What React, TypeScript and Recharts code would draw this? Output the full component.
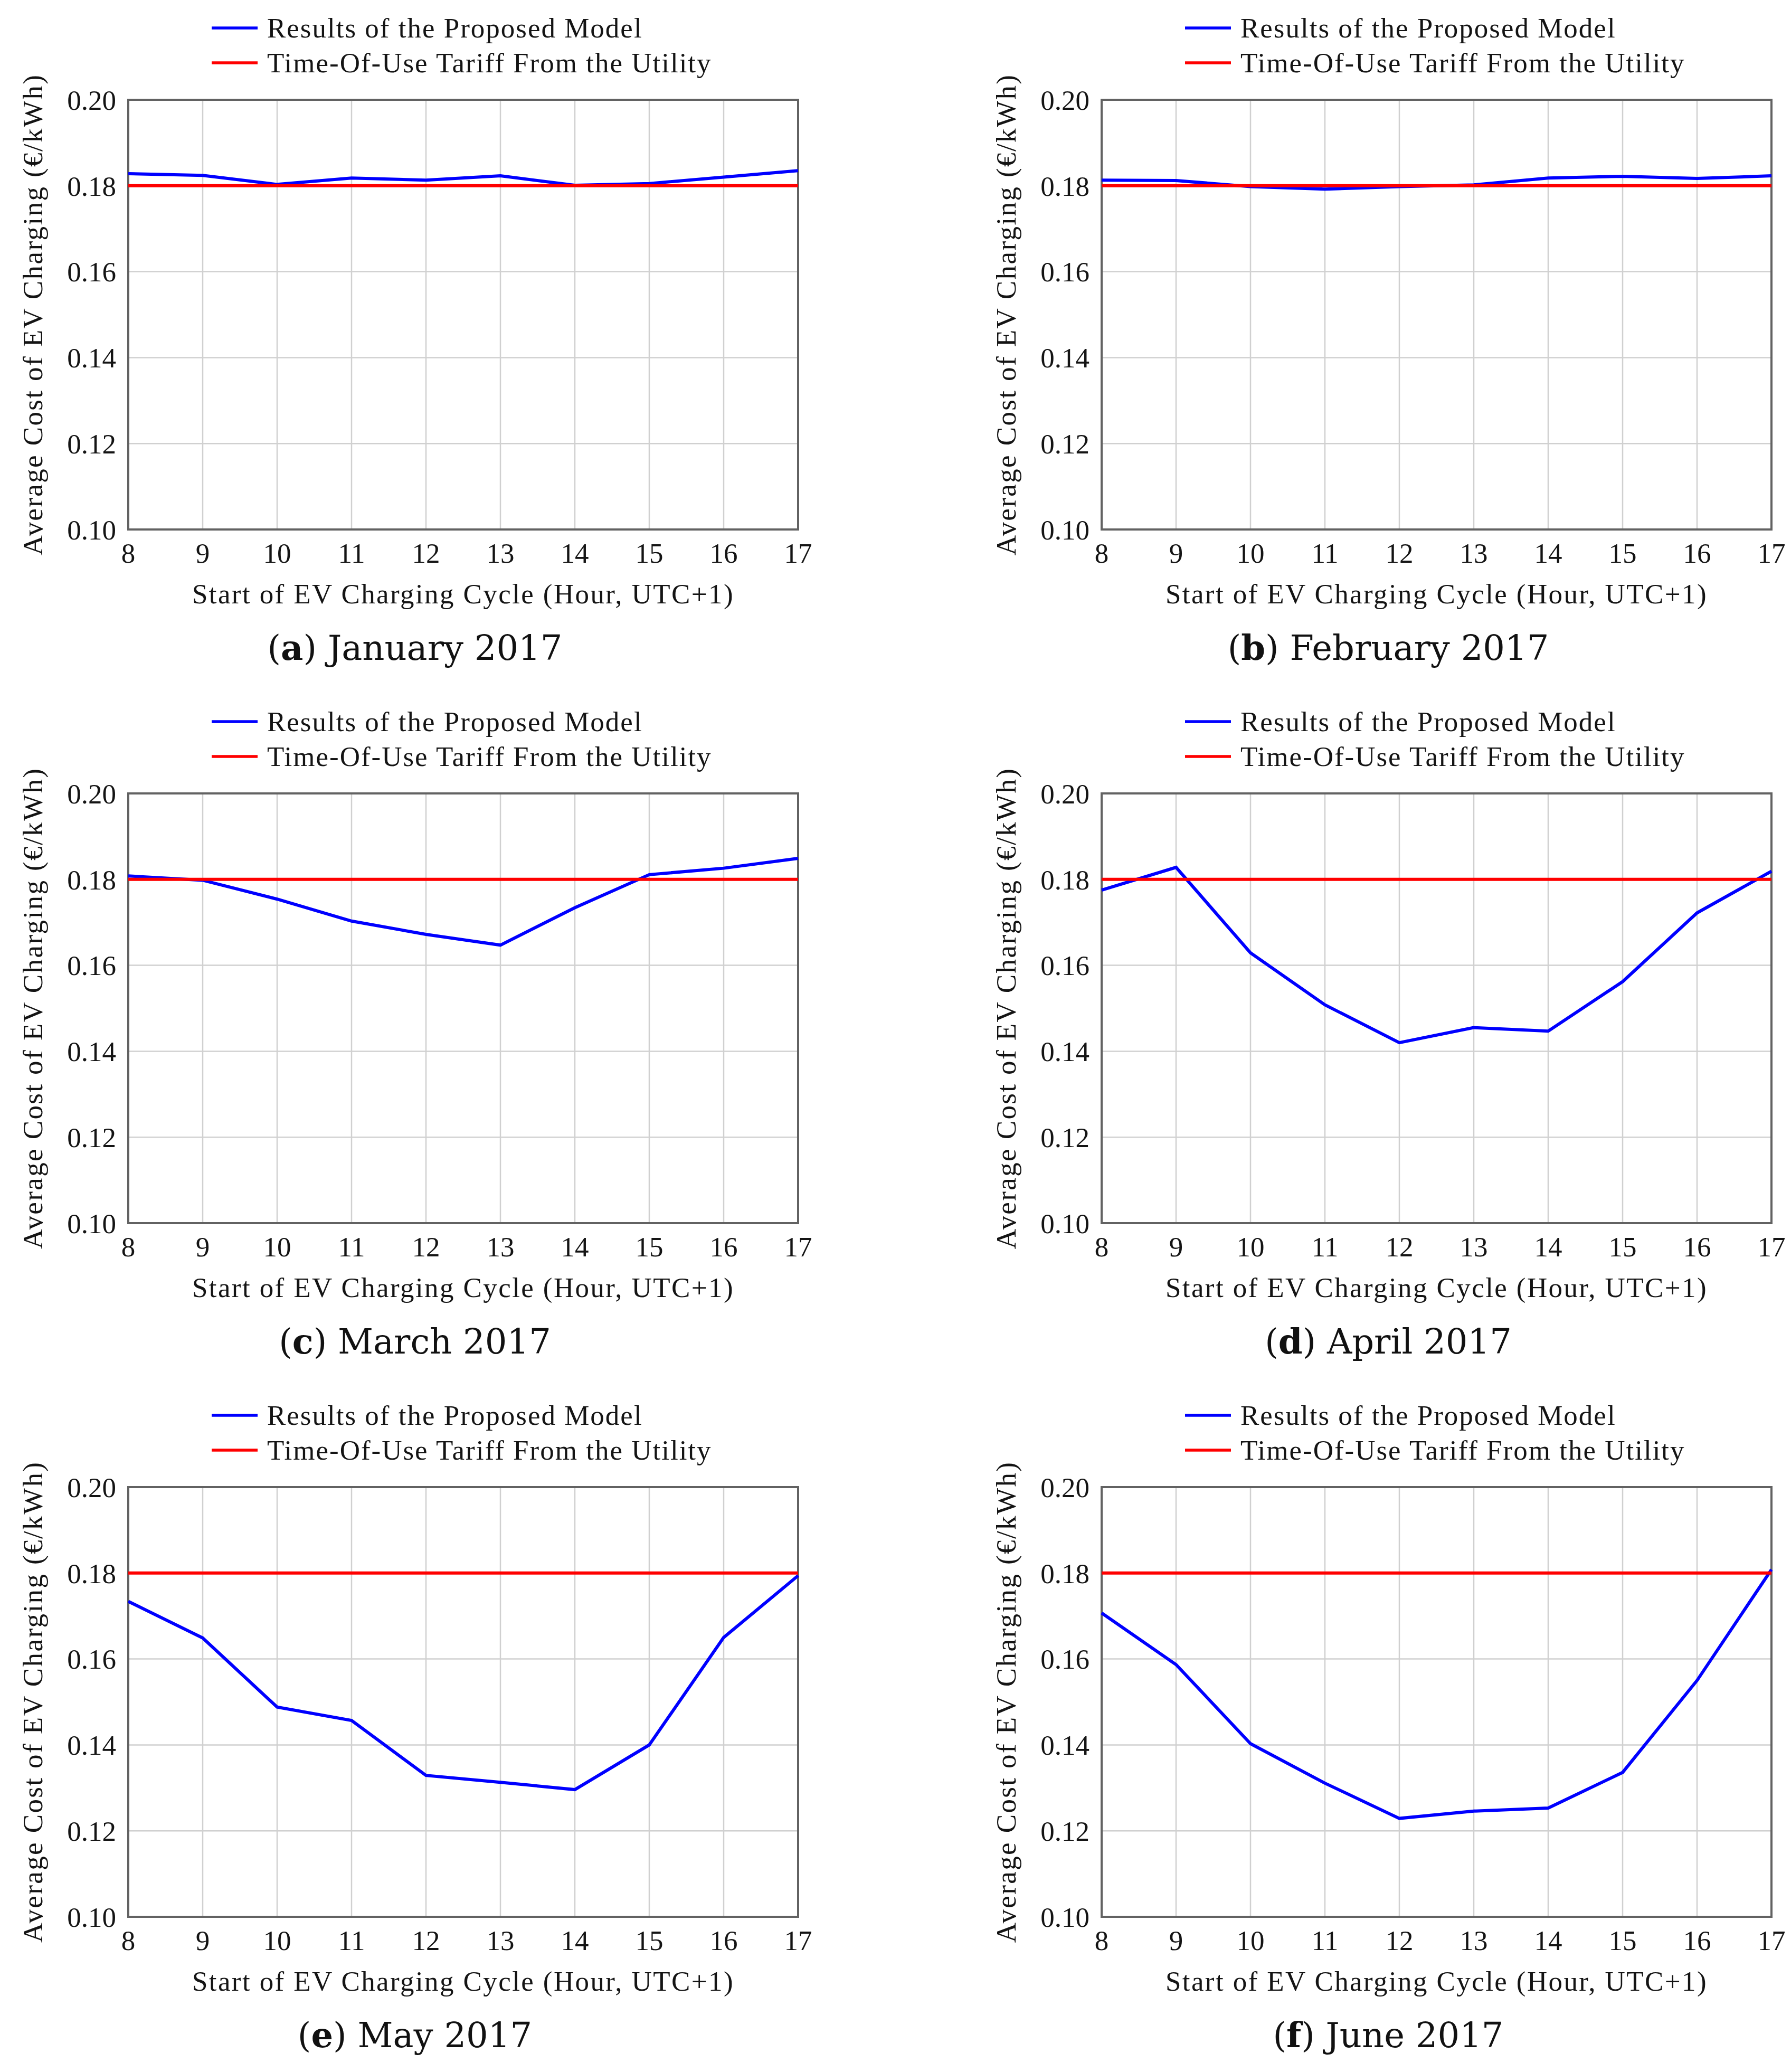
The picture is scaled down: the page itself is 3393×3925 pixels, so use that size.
import React from "react";
import {
  LineChart,
  Line,
  XAxis,
  YAxis,
  CartesianGrid,
  Legend,
  ReferenceArea,
} from "recharts";

// ---------- data ----------
const hours = [8, 9, 10, 11, 12, 13, 14, 15, 16, 17];
const yTicks = [0.1, 0.12, 0.14, 0.16, 0.18, 0.2];
const touTariff = [0.18, 0.18, 0.18, 0.18, 0.18, 0.18, 0.18, 0.18, 0.18, 0.18];

const janModel = [0.1828, 0.1824, 0.1803, 0.1818, 0.1813, 0.1823, 0.1801, 0.1805, 0.182, 0.1835];
const febModel = [0.1813, 0.1812, 0.1798, 0.1792, 0.1798, 0.1802, 0.1818, 0.1822, 0.1817, 0.1823];
const marModel = [0.1808, 0.1798, 0.1754, 0.1703, 0.1672, 0.1647, 0.1734, 0.1811, 0.1826, 0.1849];
const aprModel = [0.1775, 0.1828, 0.1629, 0.1508, 0.142, 0.1455, 0.1447, 0.1562, 0.1722, 0.1819];
const mayModel = [0.1734, 0.1649, 0.1488, 0.1457, 0.1329, 0.1313, 0.1296, 0.14, 0.165, 0.1794];
const junModel = [0.1707, 0.1587, 0.1403, 0.1311, 0.1229, 0.1246, 0.1253, 0.1336, 0.155, 0.1808];

const panelLetters = ["a", "b", "c", "d", "e", "f"];
const panelMonths = ["January 2017", "February 2017", "March 2017", "April 2017", "May 2017", "June 2017"];
const panelModels = [janModel, febModel, marModel, aprModel, mayModel, junModel];

const modelName = "Results of the Proposed Model";
const tariffName = "Time-Of-Use Tariff From the Utility";
const xTitle = "Start of EV Charging Cycle (Hour, UTC+1)";
const yTitle = "Average Cost of EV Charging (\u20AC/kWh)";

// ---------- styling ----------
const CM_FONT = "'Liberation Serif', 'Times New Roman', serif";
const CAP_FONT = "'DejaVu Serif', serif";
const TEXT = "#141414";
const FS = 53;
const LS = 2.4;
const LEGEND_LS = 2.0;

const CHART_W = 1545;
const CHART_H = 1290;
const PLOT_LEFT = 243;
const PLOT_RIGHT = 1512;
const PLOT_TOP = 189;
const PLOT_BOTTOM = 1003;
const Y_AXIS_W = 160;
const X_AXIS_H = 60;

const COL_X = [0, 1844];
const ROW_Y = [0, 1314, 2628];

function buildRows(model: number[]) {
  return hours.map((h, i) => ({ hour: h, model: model[i], tariff: touTariff[i] }));
}

const renderLegend = (props: any) => {
  const payload = props.payload || [];
  return (
    <div style={{ fontFamily: CM_FONT, fontSize: FS, letterSpacing: LEGEND_LS, color: TEXT }}>
      {payload.map((entry: any, i: number) => (
        <div
          key={i}
          style={{ display: "flex", alignItems: "center", height: 66, lineHeight: "66px", whiteSpace: "nowrap" }}
        >
          <svg width={87} height={10} style={{ display: "block", marginRight: 18 }}>
            <line x1={0} y1={5} x2={87} y2={5} stroke={entry.color} strokeWidth={5.5} />
          </svg>
          <span>{entry.value}</span>
        </div>
      ))}
    </div>
  );
};

const renderXTitle = (props: any) => {
  const vb = props.viewBox || {};
  return (
    <text
      x={vb.x + vb.width / 2}
      y={vb.y + 122}
      textAnchor="middle"
      dominantBaseline="central"
      fontFamily={CM_FONT}
      fontSize={FS}
      letterSpacing={LS}
      fill={TEXT}
    >
      {xTitle}
    </text>
  );
};

const renderYTitle = (props: any) => {
  const vb = props.viewBox || {};
  const cx = vb.x + vb.width - 181;
  const cy = vb.y + vb.height / 2;
  return (
    <text
      x={cx}
      y={cy}
      transform={`rotate(-90, ${cx}, ${cy})`}
      textAnchor="middle"
      dominantBaseline="central"
      fontFamily={CM_FONT}
      fontSize={FS}
      letterSpacing={LS}
      fill={TEXT}
    >
      {yTitle}
    </text>
  );
};

function Panel({ index }: { index: number }) {
  const col = index % 2;
  const row = Math.floor(index / 2);
  const data = buildRows(panelModels[index]);
  const tickStyle = { fill: TEXT, fontSize: FS, fontFamily: CM_FONT };
  return (
    <div
      style={{
        position: "absolute",
        left: COL_X[col],
        top: ROW_Y[row],
        width: CHART_W,
        height: CHART_H,
      }}
    >
      <LineChart
        width={CHART_W}
        height={CHART_H}
        data={data}
        margin={{
          top: PLOT_TOP,
          left: PLOT_LEFT - Y_AXIS_W,
          right: CHART_W - PLOT_RIGHT,
          bottom: CHART_H - PLOT_BOTTOM - X_AXIS_H,
        }}
      >
        <CartesianGrid stroke="#d0d0d0" strokeWidth={2.5} />
        <XAxis
          dataKey="hour"
          type="number"
          domain={[8, 17]}
          ticks={hours}
          height={X_AXIS_H}
          tickLine={false}
          axisLine={false}
          tickSize={0}
          tickMargin={25}
          tick={tickStyle}
          interval={0}
          label={renderXTitle}
        />
        <YAxis
          type="number"
          domain={[0.1, 0.2]}
          ticks={yTicks}
          width={Y_AXIS_W}
          tickLine={false}
          axisLine={false}
          tickSize={0}
          tickMargin={23}
          tick={tickStyle}
          interval={0}
          tickFormatter={(v: number) => v.toFixed(2)}
          allowDataOverflow
          label={renderYTitle}
        />
        <ReferenceArea
          x1={8}
          x2={17}
          y1={0.1}
          y2={0.2}
          fill="none"
          fillOpacity={0}
          stroke="#626262"
          strokeWidth={4}
          ifOverflow="visible"
        />
        <Legend
          layout="vertical"
          verticalAlign="middle"
          align="center"
          content={renderLegend}
          wrapperStyle={{ left: 401, top: 20, width: 1100, height: 132 }}
        />
        <Line
          type="linear"
          dataKey="model"
          name={modelName}
          stroke="#0000ff"
          strokeWidth={6}
          dot={false}
          activeDot={false}
          isAnimationActive={false}
        />
        <Line
          type="linear"
          dataKey="tariff"
          name={tariffName}
          stroke="#ff0000"
          strokeWidth={6}
          dot={false}
          activeDot={false}
          isAnimationActive={false}
        />
      </LineChart>
      <div
        style={{
          position: "absolute",
          left: 786 - 600,
          width: 1200,
          top: PLOT_TOP + 1038 - 50,
          height: 100,
          lineHeight: "100px",
          textAlign: "center",
          fontFamily: CAP_FONT,
          fontSize: 65.5,
          color: "#111",
          whiteSpace: "nowrap",
        }}
      >
        (<b>{panelLetters[index]}</b>) {panelMonths[index]}
      </div>
    </div>
  );
}

export default function App() {
  return (
    <div
      style={{
        position: "absolute",
        left: 0,
        top: 0,
        width: 3393,
        height: 3925,
        background: "#ffffff",
        overflow: "hidden",
      }}
    >
      {panelModels.map((_, i) => (
        <Panel key={i} index={i} />
      ))}
    </div>
  );
}
